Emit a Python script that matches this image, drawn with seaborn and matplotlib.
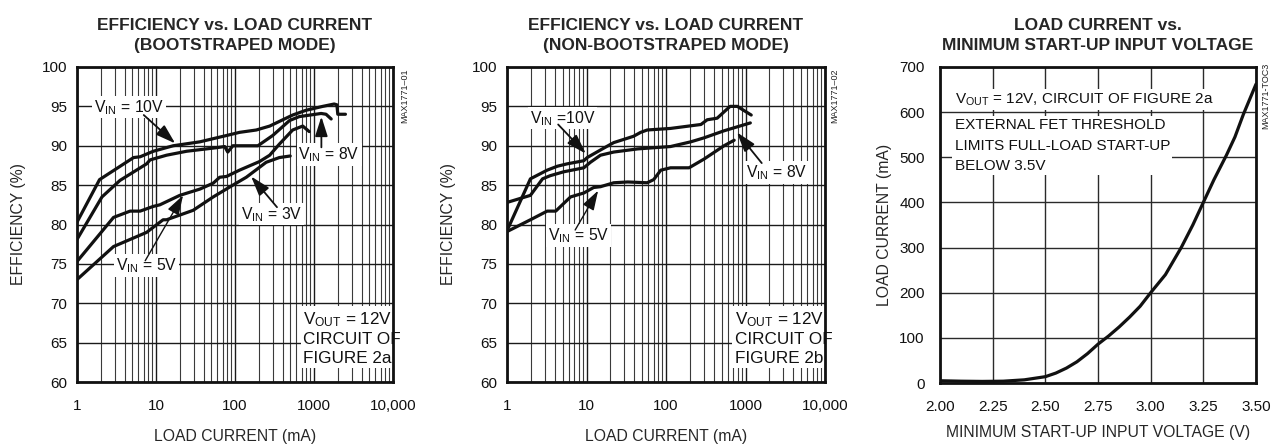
import numpy as np
import pandas as pd
import matplotlib
matplotlib.use("Agg")
import matplotlib.pyplot as plt
import matplotlib.ticker as mticker
import seaborn as sns

# ---------------- data ----------------
# Panel 1: efficiency vs load current (bootstrapped mode)
b10_x = [1, 1.93, 5.2, 6.3, 9.25, 16.5, 36, 78, 114, 186, 275, 537, 790, 1290, 1800, 1950, 2000, 2500]
b10_y = [80.3, 85.7, 88.5, 88.6, 89.3, 90.0, 90.5, 91.3, 91.7, 92.0, 92.5, 93.9, 94.5, 95.0, 95.3, 95.2, 94.0, 94.0]
b8_x = [1, 2.07, 3.5, 7.6, 8.4, 13.6, 24.4, 58, 74, 81, 94, 195, 300, 490, 650, 1230, 1420, 1650]
b8_y = [78.1, 83.5, 85.6, 87.7, 88.2, 88.8, 89.3, 89.75, 89.9, 89.2, 90.0, 90.0, 91.3, 93.2, 93.7, 94.1, 94.0, 93.4]
b5_x = [1, 2.9, 4.7, 6.3, 9.25, 11.2, 20, 36, 53, 64, 78, 114, 205, 275, 364, 537, 720, 870]
b5_y = [75.3, 80.9, 81.7, 81.7, 82.3, 82.5, 83.7, 84.5, 85.25, 86.0, 86.1, 86.9, 88.0, 88.8, 90.2, 92.0, 92.5, 91.8]
b3_x = [1, 2.9, 7.6, 12.3, 13.6, 16.5, 29.5, 53, 94, 139, 248, 364, 500]
b3_y = [73.0, 77.2, 79.0, 80.6, 80.6, 80.9, 81.8, 83.5, 85.0, 86.0, 87.9, 88.5, 88.7]

# Panel 2: efficiency vs load current (non-bootstrapped mode)
n10_x = [1, 1.97, 3.2, 4.3, 5.7, 9.25, 10.2, 16.5, 22, 39, 48, 58, 114, 275, 330, 440, 537, 640, 790, 1180]
n10_y = [79.2, 85.8, 86.9, 87.4, 87.7, 88.1, 88.5, 89.7, 90.4, 91.2, 91.7, 92.0, 92.2, 92.7, 93.3, 93.5, 94.3, 95.0, 95.0, 93.9]
n8_x = [1, 1.97, 2.8, 3.5, 5.2, 9.25, 11.2, 15, 22, 44, 114, 205, 300, 537, 1150]
n8_y = [82.8, 83.7, 85.8, 86.2, 86.7, 87.2, 87.9, 88.8, 89.2, 89.6, 89.9, 90.5, 91.0, 91.9, 92.9]
n5_x = [1, 1.97, 3.2, 4.1, 6.3, 9.25, 12.3, 15, 22, 33, 58, 70, 86, 114, 195, 300, 537, 720]
n5_y = [79.1, 80.6, 81.7, 81.7, 83.5, 84.0, 84.7, 84.8, 85.3, 85.4, 85.3, 85.7, 86.9, 87.2, 87.2, 88.3, 90.0, 90.7]

# Panel 3: load current vs minimum start-up input voltage
su_v = [2.00, 2.10, 2.20, 2.30, 2.40, 2.50, 2.55, 2.60, 2.65, 2.70, 2.75, 2.80, 2.85, 2.90, 2.95,
        3.00, 3.07, 3.145, 3.20, 3.25, 3.30, 3.36, 3.40, 3.44, 3.50]
su_i = [5, 4, 3.5, 4, 7, 14, 22, 33, 47, 65, 86, 104, 124, 146, 170,
        200, 240, 300, 350, 400, 450, 505, 545, 595, 662]

log_ticks = [1, 10, 100, 1000, 10000]
log_labels = ["1", "10", "100", "1000", "10,000"]
eff_ticks = [60, 65, 70, 75, 80, 85, 90, 95, 100]
v_ticks = [2.00, 2.25, 2.50, 2.75, 3.00, 3.25, 3.50]
v_labels = ["2.00", "2.25", "2.50", "2.75", "3.00", "3.25", "3.50"]
i_ticks = [0, 100, 200, 300, 400, 500, 600, 700]

# ---------------- style ----------------
sns.set_theme(style="white")
FAM = ["Liberation Sans", "DejaVu Sans"]
plt.rcParams["font.family"] = FAM
plt.rcParams["mathtext.fontset"] = "custom"
plt.rcParams["mathtext.rm"] = "Liberation Sans"
plt.rcParams["mathtext.it"] = "Liberation Sans"
plt.rcParams["axes.unicode_minus"] = False

W, H = 1281, 448
fig = plt.figure(figsize=(W / 100, H / 100), dpi=100)
fig.patch.set_facecolor("white")


def px_axes(l, t, r, b):
    return fig.add_axes([l / W, (H - b) / H, (r - l) / W, (b - t) / H])


ax1 = px_axes(77, 67, 393, 382)
ax2 = px_axes(507, 67, 825, 382)
ax3 = px_axes(940, 67, 1256, 383)

TICK_FS = 11
LAB_FS = 11.3
TITLE_FS = 12.5
VIN_FS = 11.3
BOX_FS = 12.3
P3_FS = 11
CURVE_LW = 2.3


def style_common(ax):
    for s in ax.spines.values():
        s.set_linewidth(2.0)
        s.set_color("#111111")
        s.set_zorder(5)
    ax.tick_params(which="both", length=0, labelsize=TICK_FS, colors="#111111")
    ax.set_facecolor("white")


def style_eff(ax, title):
    ax.set_xscale("log")
    ax.set_xlim(1, 10000)
    ax.set_ylim(60, 100)
    ax.xaxis.set_major_locator(mticker.FixedLocator(log_ticks))
    ax.xaxis.set_major_formatter(mticker.FixedFormatter(log_labels))
    ax.xaxis.set_minor_locator(mticker.LogLocator(base=10, subs=np.arange(2, 10), numticks=20))
    ax.xaxis.set_minor_formatter(mticker.NullFormatter())
    ax.set_yticks(eff_ticks)
    ax.set_yticklabels([str(t) for t in eff_ticks])
    ax.grid(True, which="major", axis="both", color="#1a1a1a", lw=1.0, zorder=0.5)
    ax.grid(True, which="minor", axis="x", color="#3a3a3a", lw=0.8, zorder=0.5)
    ax.set_axisbelow(True)
    style_common(ax)
    ax.tick_params(axis="x", pad=12)
    ax.tick_params(axis="y", pad=7)
    ax.set_xlabel("LOAD CURRENT (mA)", fontsize=LAB_FS, labelpad=12)
    ax.set_ylabel("EFFICIENCY (%)", fontsize=LAB_FS, labelpad=11)
    ax.set_title(title, fontsize=TITLE_FS, fontweight="heavy", linespacing=1.45, pad=12)


def curve(ax, xs, ys):
    df = pd.DataFrame({"x": xs, "y": ys})
    sns.lineplot(data=df, x="x", y="y", ax=ax, color="#111111", lw=CURVE_LW,
                 sort=False, estimator=None, zorder=3, legend=False)


def label(ax, x, y, s, ha="center"):
    ax.text(x, y, s, fontsize=VIN_FS, ha=ha, va="center", zorder=2.6, color="#111111",
            bbox=dict(boxstyle="square,pad=0.12", fc="white", ec="none"))


def arrow(ax, start, tip, lw=1.3):
    ax.annotate("", xy=tip, xytext=start, zorder=2.7,
                arrowprops=dict(arrowstyle="-|>,head_length=1.0,head_width=0.32",
                                mutation_scale=12, lw=lw, color="#111111",
                                shrinkA=0, shrinkB=0))


def box(ax, x, y, s, fs, ls):
    ax.text(x, y, s, fontsize=fs, ha="left", va="center", linespacing=ls, zorder=2.6,
            color="#111111", bbox=dict(boxstyle="square,pad=0.15", fc="white", ec="none"))


VIN = r"V$_{\mathrm{IN}}$"
VOUT = r"V$_{\mathrm{OUT}}$"

# ---------------- panel 1 ----------------
style_eff(ax1, "EFFICIENCY vs. LOAD CURRENT\n(BOOTSTRAPED MODE)")
for xs, ys in [(b10_x, b10_y), (b8_x, b8_y), (b5_x, b5_y), (b3_x, b3_y)]:
    curve(ax1, xs, ys)
label(ax1, 4.5, 94.9, VIN + " = 10V")
arrow(ax1, (7.0, 93.9), (17.5, 90.3))
label(ax1, 1550, 88.9, VIN + " = 8V")
arrow(ax1, (1240, 89.8), (1240, 93.7))
label(ax1, 290, 81.3, VIN + " = 3V")
arrow(ax1, (340, 82.2), (160, 86.1))
label(ax1, 7.6, 74.8, VIN + " = 5V")
arrow(ax1, (7.3, 75.4), (22, 83.7), lw=1.0)
box(ax1, 730, 65.6, VOUT + " = 12V\nCIRCUIT OF\nFIGURE 2a", BOX_FS, 1.3)
ax1.text(1.038, 0.91, "MAX1771\u201301", transform=ax1.transAxes, rotation=90,
         fontsize=6.5, ha="center", va="center", color="#222222")

# ---------------- panel 2 ----------------
style_eff(ax2, "EFFICIENCY vs. LOAD CURRENT\n(NON-BOOTSTRAPED MODE)")
for xs, ys in [(n10_x, n10_y), (n8_x, n8_y), (n5_x, n5_y)]:
    curve(ax2, xs, ys)
label(ax2, 5.0, 93.5, VIN + " =10V")
arrow(ax2, (4.4, 92.7), (9.8, 89.0))
label(ax2, 2450, 86.6, VIN + " = 8V")
arrow(ax2, (1600, 87.8), (780, 91.7))
label(ax2, 7.9, 78.6, VIN + " = 5V")
arrow(ax2, (7.2, 79.3), (14, 84.3), lw=1.0)
box(ax2, 730, 65.6, VOUT + " = 12V\nCIRCUIT OF\nFIGURE 2b", BOX_FS, 1.3)
ax2.text(1.032, 0.91, "MAX1771\u201302", transform=ax2.transAxes, rotation=90,
         fontsize=6.5, ha="center", va="center", color="#222222")

# ---------------- panel 3 ----------------
ax3.set_xlim(2.0, 3.5)
ax3.set_ylim(0, 700)
ax3.set_xticks(v_ticks)
ax3.set_xticklabels(v_labels)
ax3.set_yticks(i_ticks)
ax3.set_yticklabels([str(t) for t in i_ticks])
ax3.grid(True, which="major", color="#2a2a2a", lw=1.0, zorder=0.5)
ax3.set_axisbelow(True)
style_common(ax3)
ax3.tick_params(axis="x", pad=12)
ax3.tick_params(axis="y", pad=11)
curve(ax3, su_v, su_i)
ax3.set_xlabel("MINIMUM START-UP INPUT VOLTAGE (V)", fontsize=LAB_FS, labelpad=8)
ax3.set_ylabel("LOAD CURRENT (mA)", fontsize=LAB_FS, labelpad=5)
ax3.set_title("LOAD CURRENT vs.\nMINIMUM START-UP INPUT VOLTAGE", fontsize=TITLE_FS,
              fontweight="heavy", linespacing=1.45, pad=12)
box(ax3, 2.07, 627, VOUT + " = 12V, CIRCUIT OF FIGURE 2a", P3_FS, 1.0)
box(ax3, 2.07, 526, "EXTERNAL FET THRESHOLD\nLIMITS FULL-LOAD START-UP\nBELOW 3.5V", P3_FS, 1.6)
ax3.text(1.032, 0.91, "MAX1771-TOC3", transform=ax3.transAxes, rotation=90,
         fontsize=6.5, ha="center", va="center", color="#222222")

fig.savefig("out.png", dpi=100, facecolor="white")
